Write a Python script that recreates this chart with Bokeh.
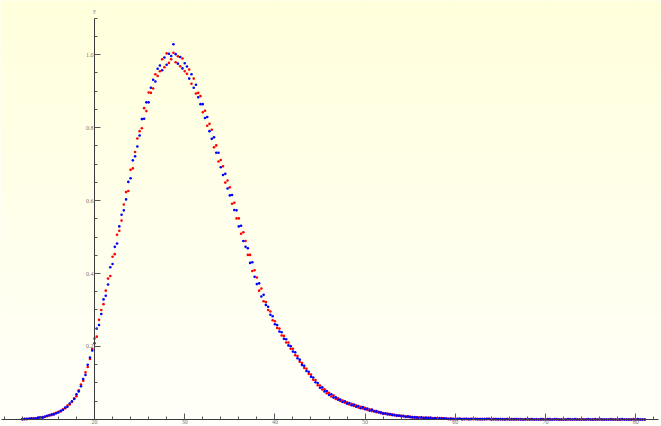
import numpy as np
from bokeh.plotting import figure
from bokeh.models import LinearAxis, FixedTicker, Range1d, Label
from bokeh.embed import file_html
from bokeh.resources import INLINE

# sample grid: x from 12 to 81 in steps of 0.25
x_start = 12.0
x_step = 0.25

red_y = [
    .001, .002, .001, .002,  .002, .003, .003, .004,  .005, .007, .007, .009,  .012, .012, .016, .018,
    .021, .022, .028, .031,  .038, .041, .048, .058,  .064, .080, .096, .106,  .129, .144, .166, .193,
    .222, .227, .273, .300,  .316, .353, .386, .393,  .446, .453, .506, .517,  .545, .589, .623, .626,
    .684, .688, .733, .770,  .790, .798, .853, .845,  .896, .895, .907, .946,  .941, .954, .987, .965,
    1.003, .977, .987, 1.005, .979, .995, .968, .989,  .954, .947, .959, .920,  .934, .893, .895, .886,
    .842, .846, .805, .810,  .794, .746, .751, .707,  .711, .694, .649, .655,  .636, .591, .594, .551,
    .551, .509, .513, .489,  .451, .451, .407, .409,  .389, .353, .359, .324,  .322, .300, .296, .272,
    .269, .251, .249, .230,  .229, .211, .211, .194,  .194, .176, .174, .158,  .155, .141, .139, .125,
    .123, .109, .108, .094,  .093, .082, .083, .072,  .073, .063, .066, .056,  .058, .051, .052, .046,
    .047, .041, .043, .037,  .039, .033, .035, .030,  .032, .026, .028, .023,  .024, .020, .021, .017,
    .018, .015, .016, .013,  .014, .011, .012, .010,  .011, .008, .009, .007,  .008, .005, .007, .004,
    .006, .004, .005, .003,  .005, .003, .004, .002,  .004, .002, .004, .002,  .003, .001, .003, .001,
    .002, .001, .002, .001,  .002, .001, .001, .002,  .001, .002, .001, .001,  .001, .001, .002, .001,
    .001, .001, .001, .000,  .001, .000, .001, .001,  .001, .000, .001, .000,  .000, .001, .000, .001,
    .000, .001, .000, .000,  .001, .000, .000, .001,  .000, .000, .001, .000,  .000, .001, .000, .000,
    .000, .000, .000, .001,  .000, .000, .000, .000,  .001, .000, .000, .000,  .000, .000, .001, .000,
    .000, .000, .000, .000,  .000, .001, .000, .000,  .000, .000, .000, .000,  .000, .000, .000, .001,
    .000, .000, .000, .000,  .000,
]

blue_y = [
    .001, .001, .002, .002,  .003, .002, .003, .005,  .006, .005, .008, .010,  .011, .014, .014, .017,
    .019, .024, .026, .033,  .035, .044, .050, .056,  .069, .077, .091, .111,  .122, .150, .170, .189,
    .209, .249, .259, .289,  .329, .339, .370, .417,  .426, .473, .482, .529,  .561, .573, .603, .651,
    .661, .710, .721, .748,  .778, .823, .824, .869,  .869, .909, .931, .926,  .961, .970, .957, .992,
    .972, 1.002, .996, 1.028, 1.001, .975, .993, .962,  .976, .967, .934, .946,  .909, .917, .883, .864,
    .864, .826, .829, .790,  .769, .773, .731, .731,  .691, .670, .673, .633,  .614, .615, .574, .573,
    .529, .531, .489, .473,  .469, .429, .431, .391,  .371, .373, .337, .342,  .314, .309, .287, .283,
    .261, .259, .241, .239,  .221, .220, .203, .201,  .186, .184, .168, .164,  .149, .147, .133, .131,
    .117, .115, .102, .100,  .087, .088, .077, .078,  .067, .069, .060, .061,  .054, .055, .048, .050,
    .043, .045, .039, .041,  .035, .037, .031, .034,  .028, .030, .024, .027,  .022, .023, .019, .020,
    .016, .017, .014, .015,  .012, .013, .010, .011,  .009, .010, .007, .009,  .006, .007, .005, .006,
    .004, .006, .003, .005,  .003, .005, .002, .004,  .002, .004, .002, .003,  .002, .002, .001, .002,
    .001, .002, .002, .001,  .001, .002, .001, .001,  .002, .001, .001, .001,  .001, .001, .001, .002,
    .000, .001, .001, .001,  .001, .001, .000, .001,  .000, .001, .000, .001,  .001, .000, .000, .000,
    .001, .000, .001, .000,  .000, .000, .001, .000,  .000, .001, .000, .000,  .001, .000, .000, .000,
    .000, .000, .001, .000,  .000, .001, .000, .000,  .000, .000, .000, .001,  .000, .000, .000, .000,
    .001, .000, .000, .000,  .000, .000, .000, .000,  .000, .000, .001, .000,  .000, .000, .000, .000,
    .000, .001, .000, .000,  .000,
]

x_major_ticks = [20, 30, 40, 50, 60, 70, 80]
x_minor_ticks = list(range(10, 84, 2))
y_major_ticks = [0.2, 0.4, 0.6, 0.8, 1.0]
y_major_labels = ["0.2", "0.4", "0.6", "0.8", "1.0"]
y_minor_ticks = [round(0.05 * k, 2) for k in range(1, 23)]

n = min(len(red_y), len(blue_y))
xs = x_start + x_step * np.arange(n)
red = np.array(red_y[:n])
blue = np.array(blue_y[:n])

X0, X1 = 9.579, 82.86
Y0, Y1 = -0.0192, 1.148

p = figure(width=661, height=426, x_range=Range1d(X0, X1), y_range=Range1d(Y0, Y1),
           output_backend="svg", toolbar_location=None,
           x_axis_location=None, y_axis_location=None, min_border=0)
p.outline_line_color = None
p.background_fill_color = "#FFFFF0"
p.border_fill_color = "#FFFFF0"

# vertical gradient background (light yellow at top to near white at bottom)
N = 80
img = np.empty((N, 1), dtype=np.uint32)
view = img.view(dtype=np.uint8).reshape((N, 1, 4))
for i in range(N):
    t = i / (N - 1)
    b = 249 - (249 - 220) * t
    view[i, 0, :] = [255, 255, int(round(b)), 255]
p.image_rgba(image=[img], x=X0, y=Y0, dw=X1 - X0, dh=Y1 - Y0)

p.scatter(xs, red, size=2.6, color="#FF0000", line_width=0)
p.scatter(xs, blue, size=2.6, color="#0000FF", line_width=0)

label_font = "Liberation Serif"
label_color = "#777777"

xaxis = LinearAxis(fixed_location=0,
                   ticker=FixedTicker(ticks=x_major_ticks, minor_ticks=x_minor_ticks),
                   bounds=(9.7, 82.5))
yaxis = LinearAxis(fixed_location=20,
                   ticker=FixedTicker(ticks=y_major_ticks, minor_ticks=y_minor_ticks),
                   bounds=(0, 1.1),
                   major_label_overrides={t: s for t, s in zip(y_major_ticks, y_major_labels)})
for ax in (xaxis, yaxis):
    ax.axis_line_color = "#3a3a3a"
    ax.axis_line_width = 1
    ax.major_tick_in = 6
    ax.major_tick_out = 0
    ax.minor_tick_in = 3
    ax.minor_tick_out = 0
    ax.major_tick_line_color = "#555555"
    ax.minor_tick_line_color = "#555555"
    ax.major_label_text_font = label_font
    ax.major_label_text_font_size = "6px"
    ax.major_label_text_color = label_color
    ax.major_label_standoff = 1
p.add_layout(xaxis, "below")
p.add_layout(yaxis, "left")

p.add_layout(Label(x=20, y=1.1, text="y", text_font=label_font, text_font_size="6px",
                   text_color=label_color, text_align="center", text_baseline="bottom",
                   y_offset=4))

open("out.html", "w").write(file_html(p, INLINE))
